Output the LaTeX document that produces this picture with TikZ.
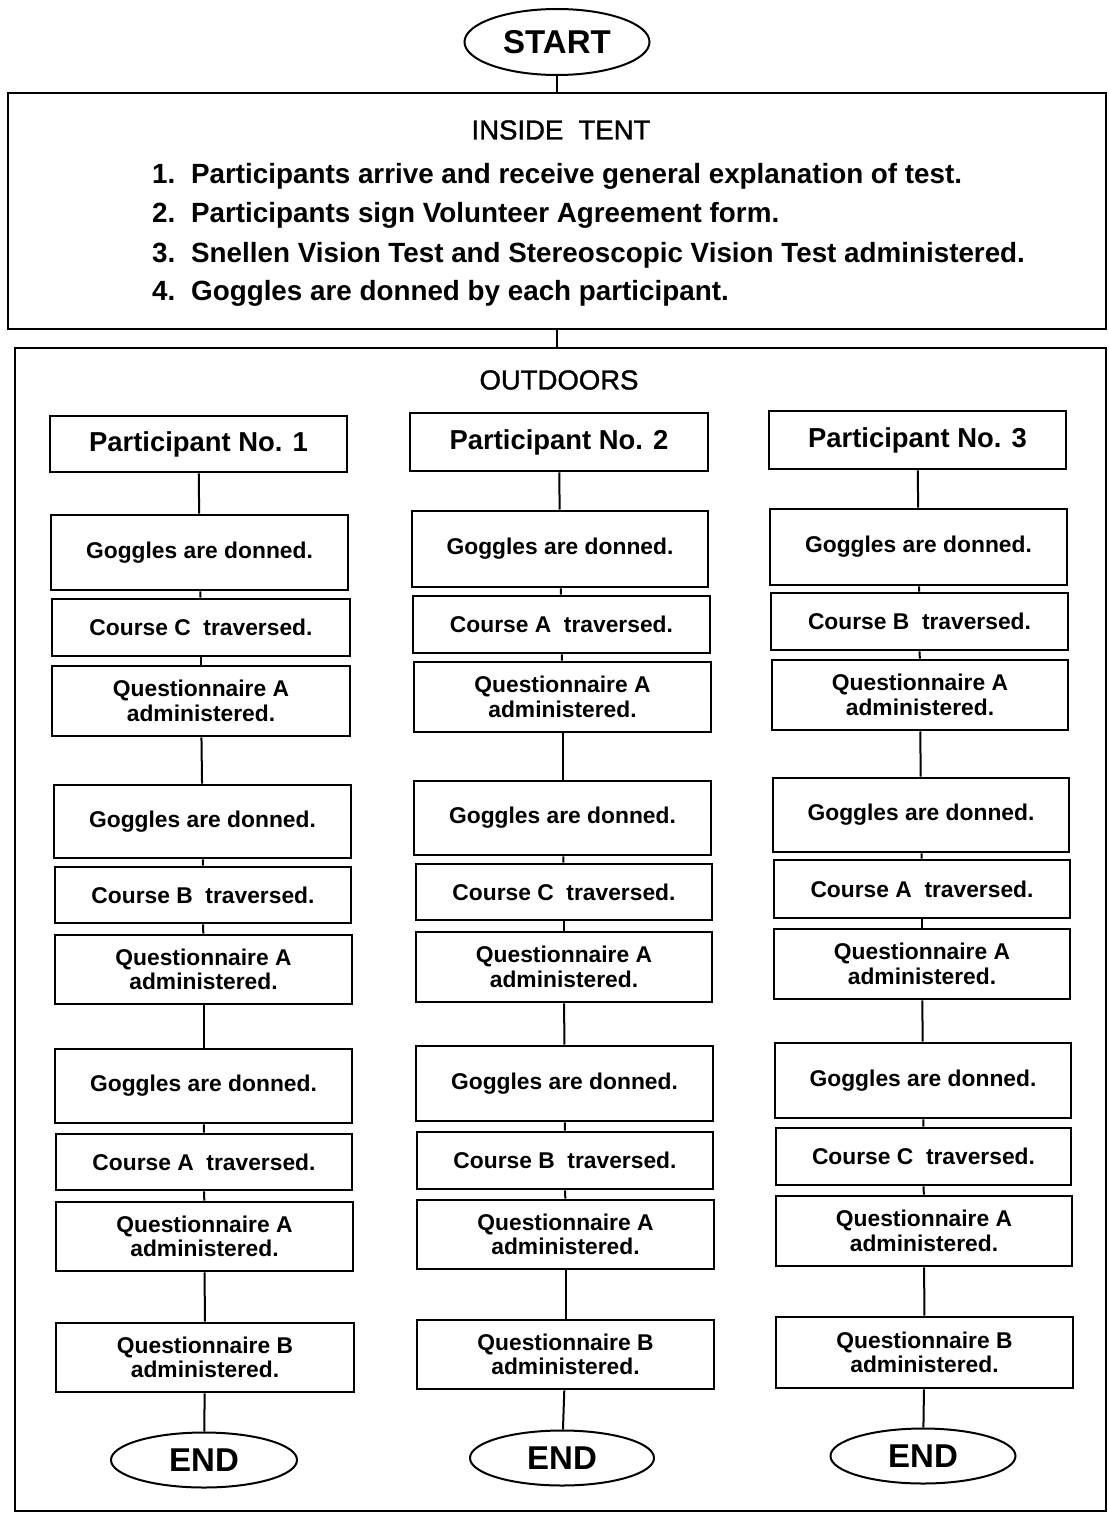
\documentclass[tikz,border=0pt]{standalone}
\usepackage{fontspec}
\setmainfont{Liberation Sans}
\newfontfamily\medfont[FakeBold=1.3]{Liberation Sans}
\usetikzlibrary{shapes.geometric}
\tikzset{
  box/.style={draw, line width=2.6pt, inner sep=0pt, align=center,
    font=\bfseries\fontsize{22.8}{24.5}\selectfont},
  pbox/.style={box, font=\bfseries\fontsize{27.4}{29}\selectfont},
  term/.style={draw, ellipse, line width=2pt, inner sep=0pt,
    font=\bfseries\fontsize{33}{35}\selectfont},
  frame/.style={draw, line width=2.6pt, inner sep=0pt},
  link/.style={line width=2pt},
  item/.style={anchor=base west, inner sep=0pt, font=\bfseries\fontsize{27.8}{30}\selectfont},
  head/.style={inner sep=0pt, font=\medfont\fontsize{27.5}{30}\selectfont}
}
\newcommand\bx[7][box]{\node[#1, minimum width={(#5-#3)*1pt}, minimum height={(#6-#4)*1pt}] (#2) at ({(#3+#5)/2},{(#4+#6)/2}) {#7};}
\newcommand\qa{Questionnaire A\\administered.}
\newcommand\qb{Questionnaire B\\administered.}
\newcommand\gd{Goggles are donned.}
\begin{document}
\begin{tikzpicture}[x=1pt,y=-1pt]
\useasboundingbox (0,0) rectangle (1108,1514);
% START
\node[term, minimum width=185pt, minimum height=66pt] (start) at (557,42) {START};
% inside tent
\bx[frame]{tent}{8}{93}{1106}{329}{}
\node[head] (tenthead) at (561,130) {INSIDE\ \ TENT};
\node[item] (i1) at (152,184) {\makebox[39pt][l]{1.}Participants arrive and receive general explanation of test.};
\node[item] (i2) at (152,223) {\makebox[39pt][l]{2.}Participants sign Volunteer Agreement form.};
\node[item] (i3) at (152,262) {\makebox[39pt][l]{3.}Snellen Vision Test and Stereoscopic Vision Test administered.};
\node[item] (i4) at (152,300) {\makebox[39pt][l]{4.}Goggles are donned by each participant.};
% outdoors
\bx[frame]{out}{15}{348}{1106}{1511}{}
\node[head] (outhead) at (559,380) {OUTDOORS};
\draw[link] (start.south) -- (start.south |- tent.north);
\draw[link] (tent.south -| 557,0) -- (out.north -| 557,0);
% column 1
\bx[pbox]{p1}{50}{416}{347}{472}{Participant No. 1}
\bx{g11}{51}{515}{348}{590}{\gd}
\bx{c11}{52}{599}{350}{656}{Course C\ \ traversed.}
\bx{q11}{52}{666}{350}{736}{\qa}
\bx{g12}{54}{785}{351}{858}{\gd}
\bx{c12}{55}{867}{351}{923}{Course B\ \ traversed.}
\bx{q12}{55}{935}{352}{1004}{\qa}
\bx{g13}{55}{1049}{352}{1123}{\gd}
\bx{c13}{56}{1134}{352}{1190}{Course A\ \ traversed.}
\bx{q13}{56}{1202}{353}{1271}{\qa}
\bx{qb1}{56}{1323}{354}{1392}{\qb}
\node[term, minimum width=186pt, minimum height=55pt] (e1) at (204,1460) {END};
% column 2
\bx[pbox]{p2}{410}{413}{708}{471}{Participant No. 2}
\bx{g21}{412}{511}{708}{587}{\gd}
\bx{c21}{413}{596}{710}{653}{Course A\ \ traversed.}
\bx{q21}{414}{662}{711}{732}{\qa}
\bx{g22}{414}{781}{711}{855}{\gd}
\bx{c22}{416}{864}{712}{920}{Course C\ \ traversed.}
\bx{q22}{416}{932}{712}{1002}{\qa}
\bx{g23}{416}{1046}{713}{1121}{\gd}
\bx{c23}{417}{1132}{713}{1189}{Course B\ \ traversed.}
\bx{q23}{417}{1200}{714}{1269}{\qa}
\bx{qb2}{417}{1320}{714}{1389}{\qb}
\node[term, minimum width=184pt, minimum height=55pt] (e2) at (562,1458) {END};
% column 3
\bx[pbox]{p3}{769}{411}{1066}{469}{Participant No. 3}
\bx{g31}{770}{509}{1067}{585}{\gd}
\bx{c31}{771}{593}{1068}{650}{Course B\ \ traversed.}
\bx{q31}{772}{660}{1068}{730}{\qa}
\bx{g32}{773}{778}{1069}{852}{\gd}
\bx{c32}{774}{860}{1070}{918}{Course A\ \ traversed.}
\bx{q32}{774}{929}{1070}{999}{\qa}
\bx{g33}{775}{1043}{1071}{1118}{\gd}
\bx{c33}{776}{1128}{1071}{1185}{Course C\ \ traversed.}
\bx{q33}{776}{1196}{1072}{1266}{\qa}
\bx{qb3}{776}{1317}{1073}{1388}{\qb}
\node[term, minimum width=185pt, minimum height=55pt] (e3) at (923,1456) {END};
% connectors
\foreach \c in {1,2,3}{
  \draw[link] (p\c) -- (g\c1);
  \draw[link] (g\c1) -- (c\c1);
  \draw[link] (c\c1) -- (q\c1);
  \draw[link] (q\c1) -- (g\c2);
  \draw[link] (g\c2) -- (c\c2);
  \draw[link] (c\c2) -- (q\c2);
  \draw[link] (q\c2) -- (g\c3);
  \draw[link] (g\c3) -- (c\c3);
  \draw[link] (c\c3) -- (q\c3);
  \draw[link] (q\c3) -- (qb\c);
  \draw[link] (qb\c) -- (e\c);
}
\end{tikzpicture}
\end{document}
